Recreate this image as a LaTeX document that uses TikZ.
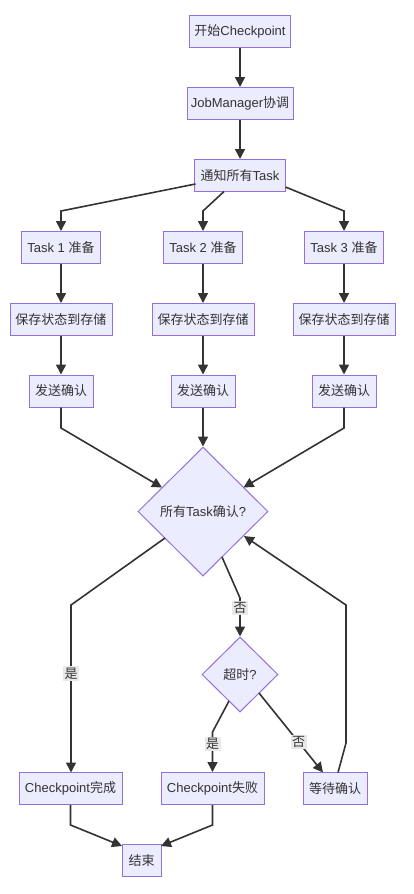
\documentclass[tikz,border=0pt]{standalone}
\usepackage{fontspec}
\setmainfont{Liberation Sans}
\newfontfamily\cjk{Noto Sans CJK SC}
\usetikzlibrary{shapes.geometric,arrows.meta}
\definecolor{mmfill}{HTML}{ECECFF}
\definecolor{mmstroke}{HTML}{9370DB}
\definecolor{mmline}{HTML}{333333}
\definecolor{mmlabel}{HTML}{E8E8E8}
\begin{document}
\begin{tikzpicture}[x=1pt,y=-1pt,
  box/.style={draw=mmstroke, fill=mmfill, line width=1pt, minimum height=32pt, inner sep=0pt,
    text=mmline, font=\fontsize{13}{15}\selectfont},
  dec/.style={diamond, draw=mmstroke, fill=mmfill, line width=1pt, inner sep=0pt,
    text=mmline, font=\fontsize{13}{15}\selectfont},
  arr/.style={draw=mmline, line width=1.6pt, -{Triangle[length=10pt,width=10pt]}},
  lbl/.style={fill=mmlabel, inner sep=1.5pt, text=mmline, font=\cjk\fontsize{13}{15}\selectfont}]
\useasboundingbox (0,0) rectangle (414,894);
\fill[white] (0,0) rectangle (414,894);

% nodes
\node[box, minimum width=101pt] (start) at (240,31) {{\cjk 开始}Checkpoint};
\node[box, minimum width=106pt] (jm) at (240,103.5) {JobManager{\cjk 协调}};
\node[box, minimum width=91pt] (notify) at (240,175.5) {{\cjk 通知所有}Task};

\node[box, minimum width=79pt] (t1) at (61,247.5) {Task 1 {\cjk 准备}};
\node[box, minimum width=79pt] (t2) at (203,247.5) {Task 2 {\cjk 准备}};
\node[box, minimum width=79pt] (t3) at (344,247.5) {Task 3 {\cjk 准备}};

\node[box, minimum width=102pt] (s1) at (61,319.5) {\cjk 保存状态到存储};
\node[box, minimum width=102pt] (s2) at (203,319.5) {\cjk 保存状态到存储};
\node[box, minimum width=102pt] (s3) at (344,319.5) {\cjk 保存状态到存储};

\node[box, minimum width=64pt] (c1) at (61,391) {\cjk 发送确认};
\node[box, minimum width=64pt] (c2) at (203,391) {\cjk 发送确认};
\node[box, minimum width=64pt] (c3) at (344,391) {\cjk 发送确认};

\node[dec, minimum width=130pt, minimum height=129pt] (all) at (203,511.5) {{\cjk 所有}Task{\cjk 确认}?};
\node[dec, minimum width=76pt, minimum height=75pt] (to) at (240,674.5) {{\cjk 超时}?};

\node[box, minimum width=103pt] (done) at (70.5,788.5) {Checkpoint{\cjk 完成}};
\node[box, minimum width=103pt] (fail) at (212.5,788.5) {Checkpoint{\cjk 失败}};
\node[box, minimum width=64pt] (wait) at (335,788.5) {\cjk 等待确认};
\node[box, minimum width=39pt] (end) at (141.5,860.5) {\cjk 结束};

% coordinates on borders
\coordinate (n1) at (195.5,184);
\coordinate (n2) at (224,191.5);
\coordinate (n3) at (285.5,187);
\coordinate (a1) at (162,487.5);
\coordinate (a3) at (243.5,487.5);
\coordinate (aw) at (244,536);
\coordinate (ad) at (165,538);
\coordinate (at) at (222,557);
\coordinate (tf) at (229,701);
\coordinate (tw) at (259,693);
\coordinate (e1) at (122,846);
\coordinate (e2) at (161,846);

% connectors
\draw[arr] (start) -- (jm);
\draw[arr] (jm) -- (notify);
\draw[arr] (n1) -- (61,211) -- (t1.north);
\draw[arr] (n2) -- (203,211) -- (t2.north);
\draw[arr] (n3) -- (344,211) -- (t3.north);
\draw[arr] (t1) -- (s1);
\draw[arr] (t2) -- (s2);
\draw[arr] (t3) -- (s3);
\draw[arr] (s1) -- (c1);
\draw[arr] (s2) -- (c2);
\draw[arr] (s3) -- (c3);
\draw[arr] (c1.south) -- (61,428) -- (a1);
\draw[arr] (c2.south) -- (all.north);
\draw[arr] (c3.south) -- (344,428) -- (a3);

\draw[arr] (ad) -- (71,605) -- (71,772.5) node[lbl, pos=0.41] {是};
\draw[arr] (at) -- (240,598) -- (to.north) node[lbl, pos=0.25] {否};
\draw[arr] (tf) -- (212.5,732) -- (fail.north) node[lbl, pos=0.3] {是};
\draw[arr] (tw) -- (323,772.5) node[lbl, pos=0.62] {否};
\draw[arr] (338,772.5) -- (346,743) -- (346,605) -- (aw);
\draw[arr] (done.south) -- (70.5,825) -- (e1);
\draw[arr] (fail.south) -- (212.5,825) -- (e2);
\end{tikzpicture}
\end{document}
